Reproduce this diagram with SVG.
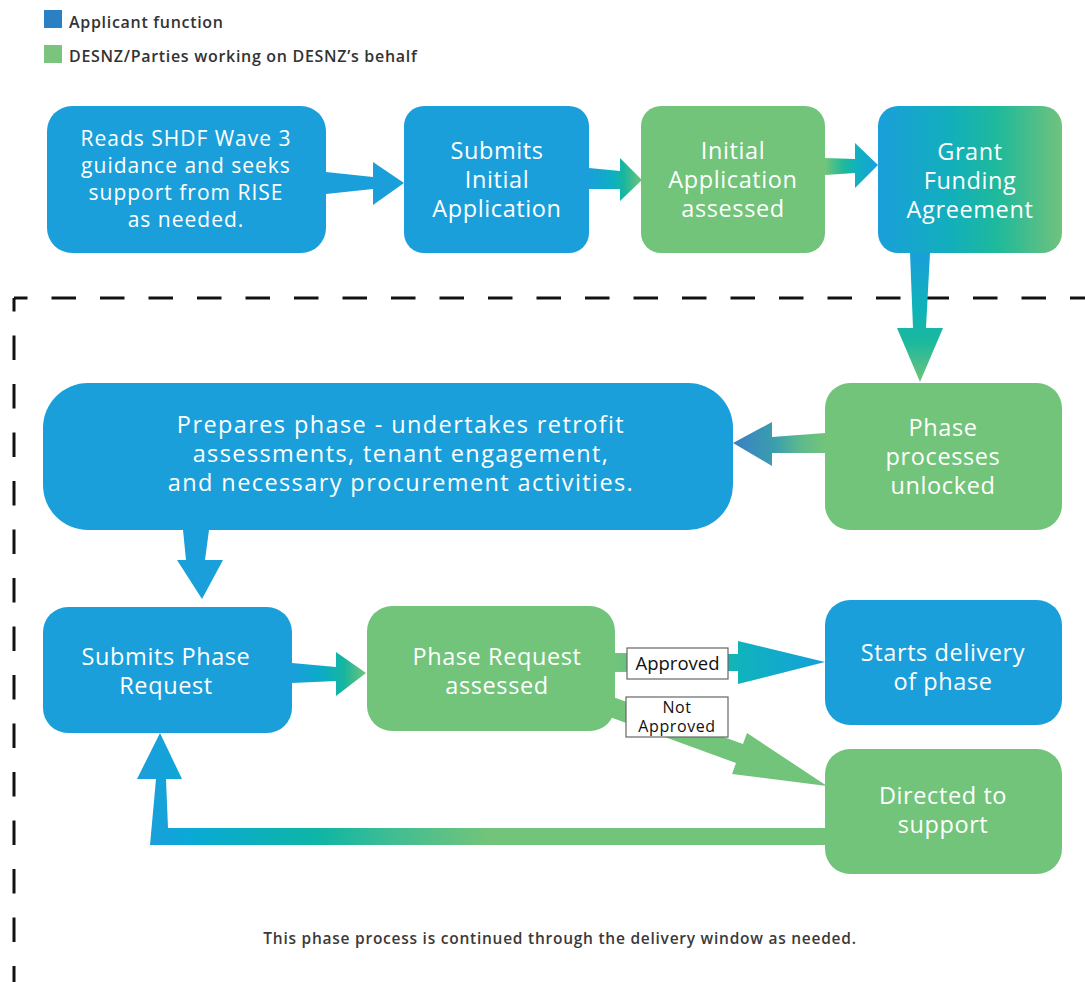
<svg xmlns="http://www.w3.org/2000/svg" width="1085" height="982" viewBox="0 0 1085 982">
<style>
.blue{fill:#1a9fdb}
.green{fill:#72c47a}
.nt{font-family:"Open Sans",Lato,"Liberation Sans",sans-serif;fill:#ffffff;text-anchor:middle;font-size:23.5px;letter-spacing:0.6px}
.n1t{font-size:21px;letter-spacing:1px}
.n6t{font-size:23.5px;letter-spacing:1.4px}
.lg{font-family:"Open Sans",Lato,"Liberation Sans",sans-serif;fill:#333333;font-size:16px;font-weight:600;letter-spacing:0.7px}
.lbl{font-family:"Open Sans",Lato,"Liberation Sans",sans-serif;fill:#111111;text-anchor:middle;font-size:18.5px}
.lbl2{font-size:16px;letter-spacing:0.6px}
.lblbox{fill:#ffffff;stroke:#666666;stroke-width:1.2}
.dash{fill:none;stroke:#111111;stroke-width:3;stroke-dasharray:24.5 24;stroke-dashoffset:11}
</style>
<defs>
<linearGradient id="gGrant" x1="0" y1="0" x2="1" y2="0">
<stop offset="0" stop-color="#1a9fdb"/>
<stop offset="0.4" stop-color="#12afbb"/>
<stop offset="0.65" stop-color="#1fb99b"/>
<stop offset="1" stop-color="#70c27d"/>
</linearGradient>
<linearGradient id="gA2" gradientUnits="userSpaceOnUse" x1="589" y1="0" x2="642" y2="0">
<stop offset="0" stop-color="#1a9fdb"/>
<stop offset="0.45" stop-color="#0cb0c2"/>
<stop offset="0.65" stop-color="#17b6a0"/>
<stop offset="1" stop-color="#72c47a"/>
</linearGradient>
<linearGradient id="gA3" gradientUnits="userSpaceOnUse" x1="825" y1="0" x2="878" y2="0">
<stop offset="0" stop-color="#72c47a"/>
<stop offset="0.35" stop-color="#1fb99b"/>
<stop offset="0.6" stop-color="#0fb1bf"/>
<stop offset="1" stop-color="#1a9fdb"/>
</linearGradient>
<linearGradient id="gA4" gradientUnits="userSpaceOnUse" x1="0" y1="253" x2="0" y2="382">
<stop offset="0" stop-color="#1a9fdb"/>
<stop offset="0.45" stop-color="#0fb3b6"/>
<stop offset="0.7" stop-color="#1cb99c"/>
<stop offset="1" stop-color="#72c47a"/>
</linearGradient>
<linearGradient id="gA5" gradientUnits="userSpaceOnUse" x1="733" y1="0" x2="825" y2="0">
<stop offset="0" stop-color="#3a80c3"/>
<stop offset="0.45" stop-color="#3a9eae"/>
<stop offset="0.75" stop-color="#5fbb8b"/>
<stop offset="1" stop-color="#72c47a"/>
</linearGradient>
<linearGradient id="gA7" gradientUnits="userSpaceOnUse" x1="292" y1="0" x2="366" y2="0">
<stop offset="0" stop-color="#1a9fdb"/>
<stop offset="0.35" stop-color="#0caacb"/>
<stop offset="0.7" stop-color="#15b5a0"/>
<stop offset="1" stop-color="#72c47a"/>
</linearGradient>
<linearGradient id="gA8" gradientUnits="userSpaceOnUse" x1="615" y1="0" x2="825" y2="0">
<stop offset="0" stop-color="#72c47a"/>
<stop offset="0.45" stop-color="#1fb8a5"/>
<stop offset="0.6" stop-color="#10b2bd"/>
<stop offset="1" stop-color="#16a0db"/>
</linearGradient>
<linearGradient id="gA10" gradientUnits="userSpaceOnUse" x1="150" y1="0" x2="825" y2="0">
<stop offset="0" stop-color="#1a9fdb"/>
<stop offset="0.06" stop-color="#0aa9d6"/>
<stop offset="0.25" stop-color="#0fb5a4"/>
<stop offset="0.36" stop-color="#40bd93"/>
<stop offset="0.5" stop-color="#72c47a"/>
<stop offset="1" stop-color="#72c47a"/>
</linearGradient>
</defs>
<rect width="1085" height="982" fill="#ffffff"/>

<g id="legend">
<rect x="44" y="10" width="18" height="18" fill="#2b7fc3"/>
<text class="lg" x="69" y="28">Applicant function</text>
<rect x="44" y="45" width="18" height="18" fill="#7ac47e"/>
<text class="lg" x="69" y="62">DESNZ/Parties working on DESNZ’s behalf</text>
</g>

<g id="boundary">
<path class="dash" d="M14,298 H1085"/>
<path class="dash" d="M14,298 V982"/>
</g>

<g id="connectors">
<polygon class="blue" points="326,172 373,177 373,162 404,183 373,205 373,189 326,194"/>
<polygon fill="url(#gA2)" points="589,168 620,171 620,158 642,180 620,201 620,189 589,189"/>
<polygon fill="url(#gA3)" points="825,158 855,159 855,143 878,165 855,188 855,173 825,175"/>
<polygon fill="url(#gA4)" points="910,253 930,253 926,328 943,328 920,382 897,328 913,328"/>
<polygon fill="url(#gA5)" points="825,433 772,437 772,422 733,443 772,466 772,453 825,453"/>
<polygon class="blue" points="183,530 209,530 205,560 223,560 202,599 177,560 186,560"/>
<polygon fill="url(#gA7)" points="292,663 336,667 336,652 366,673 336,696 336,681 292,683"/>
<polygon fill="url(#gA8)" points="615,653 738,654 738,641 825,662 738,684 738,671 615,672"/>
<polygon class="green" points="613,697 743,744 747,733 827,786 732,774 736,763 607,716"/>
<polygon fill="url(#gA10)" points="825,828 168,828 166,779 182,779 160,733 137,779 156,779 150,845 825,845"/>
</g>

<g id="n1">
<rect class="blue" x="47" y="106" width="279" height="147" rx="25"/>
<text class="nt n1t" x="186" y="146">Reads SHDF Wave 3</text>
<text class="nt n1t" x="186" y="173">guidance and seeks</text>
<text class="nt n1t" x="186" y="200">support from RISE</text>
<text class="nt n1t" x="186" y="227">as needed.</text>
</g>
<g id="n2">
<rect class="blue" x="404" y="106" width="185" height="147" rx="20"/>
<text class="nt" x="497" y="159">Submits</text>
<text class="nt" x="497" y="188">Initial</text>
<text class="nt" x="497" y="217">Application</text>
</g>
<g id="n3">
<rect class="green" x="641" y="106" width="184" height="147" rx="20"/>
<text class="nt" x="733" y="159">Initial</text>
<text class="nt" x="733" y="188">Application</text>
<text class="nt" x="733" y="217">assessed</text>
</g>
<g id="n4">
<rect fill="url(#gGrant)" x="878" y="106" width="184" height="147" rx="20"/>
<text class="nt" x="970" y="160">Grant</text>
<text class="nt" x="970" y="189">Funding</text>
<text class="nt" x="970" y="218">Agreement</text>
</g>
<g id="n5">
<rect class="green" x="825" y="383" width="237" height="147" rx="25"/>
<text class="nt" x="943" y="436">Phase</text>
<text class="nt" x="943" y="465">processes</text>
<text class="nt" x="943" y="494">unlocked</text>
</g>
<g id="n6">
<rect class="blue" x="43" y="383" width="690" height="147" rx="45"/>
<text class="nt n6t" x="401" y="433">Prepares phase - undertakes retrofit</text>
<text class="nt n6t" x="401" y="462">assessments, tenant engagement,</text>
<text class="nt n6t" x="401" y="491">and necessary procurement activities.</text>
</g>
<g id="n7">
<rect class="blue" x="43" y="607" width="249" height="126" rx="25"/>
<text class="nt" x="166" y="665">Submits Phase</text>
<text class="nt" x="166" y="694">Request</text>
</g>
<g id="n8">
<rect class="green" x="367" y="606" width="248" height="125" rx="25"/>
<text class="nt" x="497" y="665">Phase Request</text>
<text class="nt" x="497" y="694">assessed</text>
</g>
<g id="n9">
<rect class="blue" x="825" y="600" width="237" height="125" rx="25"/>
<text class="nt" x="943" y="661">Starts delivery</text>
<text class="nt" x="943" y="690">of phase</text>
</g>
<g id="n10">
<rect class="green" x="825" y="749" width="237" height="125" rx="25"/>
<text class="nt" x="943" y="804">Directed to</text>
<text class="nt" x="943" y="833">support</text>
</g>

<g id="labels">
<rect class="lblbox" x="627" y="648" width="101" height="31"/>
<text class="lbl" x="677.5" y="670">Approved</text>
<rect class="lblbox" x="626" y="697" width="102" height="40"/>
<text class="lbl lbl2" x="677" y="713">Not</text>
<text class="lbl lbl2" x="677" y="732">Approved</text>
</g>

<g id="footnote">
<text x="560" y="944" text-anchor="middle" font-family="'Open Sans',Lato,'Liberation Sans',sans-serif" font-size="15.5" font-weight="600" letter-spacing="0.75" fill="#3a3a3a">This phase process is continued through the delivery window as needed.</text>
</g>
</svg>
